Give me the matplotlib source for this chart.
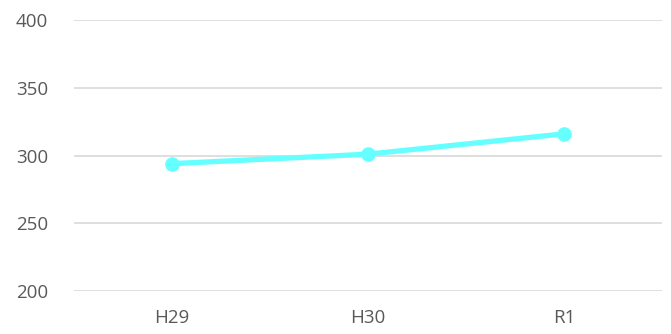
import matplotlib
matplotlib.use("Agg")
import matplotlib.pyplot as plt

categories = ["H29", "H30", "R1"]
values = [294, 301, 316]
y_ticks = [200, 250, 300, 350, 400]

plt.rcParams["font.family"] = ["Open Sans", "DejaVu Sans"]

fig = plt.figure(figsize=(6.71, 3.34), dpi=100)
ax = fig.add_axes([0.110, 0.1287, 0.8766, 0.8113])

x = list(range(len(categories)))
ax.plot(x, values, color="#66FFFF", linewidth=3.8, marker="o",
        markersize=9.5, solid_capstyle="round", zorder=3)

ax.set_xlim(-0.5, len(categories) - 0.5)
ax.set_ylim(200, 400)
ax.set_yticks(y_ticks)
ax.set_xticks(x)
ax.set_xticklabels(categories)

ax.grid(axis="y", color="#d9d9d9", linewidth=1.2)
ax.set_axisbelow(True)
for s in ax.spines.values():
    s.set_visible(False)
ax.tick_params(axis="both", length=0, colors="#595959", labelsize=13.5)
ax.tick_params(axis="y", pad=18.5)
ax.tick_params(axis="x", pad=13)

fig.savefig("out.png", dpi=100)
